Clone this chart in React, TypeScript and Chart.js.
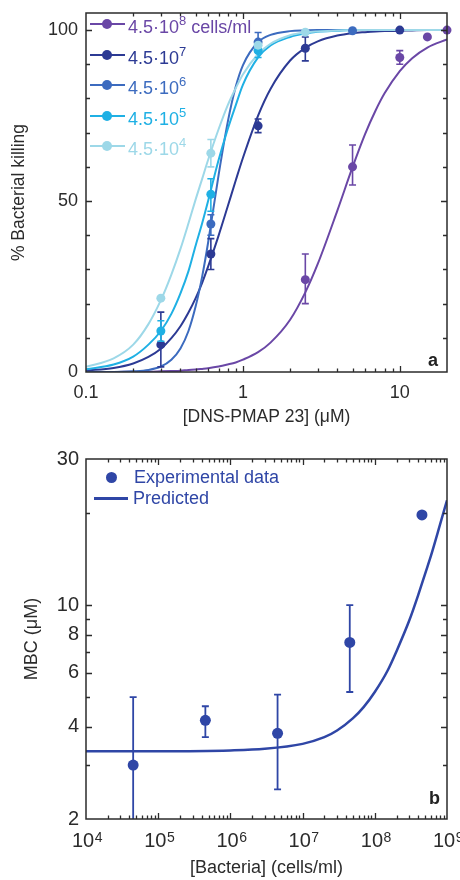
import React, { useEffect, useRef } from 'react';
import { Chart, registerables } from 'chart.js';

Chart.register(...registerables);

const FONT = '"Liberation Sans", Arial, Helvetica, sans-serif';
const AXIS = '#2b2b2b';
const TXT = '#2b2b2b';

// ---------- Panel a: killing vs DNS-PMAP 23 concentration ----------
const COL_8 = '#6a47a6';
const COL_7 = '#2c3a94';
const COL_6 = '#3c6bbf';
const COL_5 = '#1fb0e4';
const COL_4 = '#9dd8e8';

// measured points (µM, % killing)
const p8X = [2.5, 5, 10, 15, 20];
const p8Y = [27, 60, 92, 98, 100];
const p8Lo = [20, 54.7, 90, null, null];
const p8Hi = [34.5, 66.4, 94, null, null];

const p7X = [0.3, 0.625, 1.25, 2.5, 10];
const p7Y = [8, 34.5, 72, 94.7, 100];
const p7Lo = [1.5, 30, 70, 91, null];
const p7Hi = [17.5, 39, 74, 98, null];

const p6X = [0.625, 1.25, 5];
const p6Y = [43.3, 96.5, 99.8];
const p6Lo = [40, 93.5, null];
const p6Hi = [46, 99.3, null];

const p5X = [0.3, 0.625, 1.25];
const p5Y = [12, 52, 94];
const p5Lo = [9, 47, 92];
const p5Hi = [15, 56.5, 96];

const p4X = [0.3, 0.625, 1.25, 2.5];
const p4Y = [21.6, 64, 95.6, 99.4];
const p4Lo = [null, 60, null, null];
const p4Hi = [null, 68, null, null];

// fitted curves
const fitX = [0.1, 0.15, 0.2, 0.25, 0.3, 0.35, 0.4, 0.45, 0.5, 0.55, 0.6, 0.7, 0.8, 0.9, 1, 1.25, 1.5, 2, 2.5, 3, 4, 5, 6, 7, 8, 10, 12, 15, 20];
const fit8 = [0, 0, 0.1, 0.1, 0.2, 0.3, 0.4, 0.6, 0.7, 0.9, 1.1, 1.6, 2.2, 2.8, 3.6, 5.8, 8.6, 15.3, 23.3, 31.6, 47.2, 59.9, 69.5, 76.4, 81.5, 88, 91.8, 94.9, 97.3];
const fit7 = [0.4, 1.2, 2.5, 4.4, 6.8, 9.9, 13.4, 17.4, 21.6, 26.1, 30.8, 39.9, 48.4, 56, 62.6, 75, 82.8, 91.1, 94.8, 96.7, 98.4, 99.1, 99.4, 99.6, 99.7, 99.8, 99.9, 100, 100];
const fit6 = [0, 0, 0.2, 0.6, 1.6, 3.6, 6.9, 12, 19.2, 27.9, 37.8, 57.6, 73, 83.4, 89.7, 96.5, 98.6, 99.7, 99.9, 100, 100, 100, 100, 100, 100, 100, 100, 100, 100];
const fit5 = [0.8, 2.2, 4.5, 8, 12, 17, 23, 29.5, 37, 43.5, 50, 62, 71, 78, 84, 92, 95.5, 98, 99, 99.5, 99.8, 100, 100, 100, 100, 100, 100, 100, 100];
const fit4 = [1.5, 4, 8, 14, 21, 28.5, 36, 43.5, 50.5, 56.5, 62, 71, 78, 83, 87, 93, 96, 98.5, 99.3, 99.6, 99.9, 100, 100, 100, 100, 100, 100, 100, 100];

const aXTicks = [0.1, 0.2, 0.3, 0.4, 0.5, 0.6, 0.7, 0.8, 0.9, 1, 2, 3, 4, 5, 6, 7, 8, 9, 10, 20];
const aXLabelVals = [0.1, 1, 10];
const aXLabels = ['0.1', '1', '10'];
const aYTicks = [0, 10, 20, 30, 40, 50, 60, 70, 80, 90, 100];
const aYLabelVals = [0, 50, 100];
const aYLabels = ['0', '50', '100'];

const legendA = [
  { exp: '8', suffix: ' cells/ml', color: COL_8 },
  { exp: '7', suffix: '', color: COL_7 },
  { exp: '6', suffix: '', color: COL_6 },
  { exp: '5', suffix: '', color: COL_5 },
  { exp: '4', suffix: '', color: COL_4 },
];

// ---------- Panel b: MBC vs bacterial density ----------
const COL_B = '#2f46a6';
const bactX = [4.5e4, 4.5e5, 4.5e6, 4.5e7, 4.5e8];
const mbcY = [3.0, 4.2, 3.81, 7.55, 19.7];
const mbcLo = [1.0, 3.7, 2.5, 5.2, null];
const mbcHi = [5.0, 4.67, 5.1, 10, null];

const predX = [1e4, 1e5, 1e6, 3e6, 1e7, 2e7, 3e7, 5e7, 7e7, 1e8, 1.5e8, 2e8, 3e8, 4e8, 5e8, 6e8, 8e8, 1e9];
const predY = [3.33, 3.33, 3.35, 3.39, 3.52, 3.7, 3.89, 4.27, 4.64, 5.2, 6.1, 7.07, 8.9, 10.8, 12.7, 14.5, 18.3, 22];

const bXTicks = [
  1e4, 2e4, 3e4, 4e4, 5e4, 6e4, 7e4, 8e4, 9e4,
  1e5, 2e5, 3e5, 4e5, 5e5, 6e5, 7e5, 8e5, 9e5,
  1e6, 2e6, 3e6, 4e6, 5e6, 6e6, 7e6, 8e6, 9e6,
  1e7, 2e7, 3e7, 4e7, 5e7, 6e7, 7e7, 8e7, 9e7,
  1e8, 2e8, 3e8, 4e8, 5e8, 6e8, 7e8, 8e8, 9e8,
  1e9,
];
const bXLabelVals = [1e4, 1e5, 1e6, 1e7, 1e8, 1e9];
const bXLabelBase = '10';
const bXLabelExps = ['4', '5', '6', '7', '8', '9'];
const bYTicks = [2, 3, 4, 5, 6, 7, 8, 9, 10, 20, 30];
const bYLabelVals = [2, 4, 6, 8, 10, 30];
const bYLabels = ['2', '4', '6', '8', '10', '30'];

// ---------- helpers ----------
const zip = (xs: number[], ys: number[]) => xs.map((x, i) => ({ x, y: ys[i] }));
const near = (a: number, b: number) => Math.abs(a - b) <= Math.abs(b) * 1e-6 + 1e-12;
const labelFor = (vals: number[], labels: string[]) => (v: any) => {
  const n = Number(v);
  const i = vals.findIndex((u) => near(n, u));
  return i >= 0 ? labels[i] : '';
};
const setTicks = (vals: number[], majors: number[]) => (scale: any) => {
  scale.ticks = vals.map((v) => ({ value: v, major: majors.some((m) => near(v, m)) }));
};
const fixFit = (dim: 'width' | 'height', size: number) => (s: any) => {
  s[dim] = size;
  s.paddingTop = 0;
  s.paddingBottom = 0;
  s.paddingLeft = 0;
  s.paddingRight = 0;
};

const boxPlugin = {
  id: 'boxTicks',
  afterDatasetsDraw(chart: any) {
    const { ctx, chartArea: a } = chart;
    const xs = chart.scales.x;
    const ys = chart.scales.y;
    ctx.save();
    ctx.strokeStyle = AXIS;
    ctx.lineWidth = 1.3;
    ctx.beginPath();
    xs.ticks.forEach((t: any) => {
      const px = Math.round(xs.getPixelForValue(t.value)) + 0.5;
      if (px < a.left + 1 || px > a.right - 1) return;
      const len = t.major ? 6 : 3.5;
      ctx.moveTo(px, a.bottom);
      ctx.lineTo(px, a.bottom - len);
      ctx.moveTo(px, a.top);
      ctx.lineTo(px, a.top + len);
    });
    ys.ticks.forEach((t: any) => {
      const py = Math.round(ys.getPixelForValue(t.value)) + 0.5;
      if (py < a.top + 1 || py > a.bottom - 1) return;
      const len = t.major ? 6 : 4;
      ctx.moveTo(a.left, py);
      ctx.lineTo(a.left + len, py);
      ctx.moveTo(a.right, py);
      ctx.lineTo(a.right - len, py);
    });
    ctx.stroke();
    ctx.lineWidth = 1.5;
    ctx.strokeRect(a.left, a.top, a.right - a.left, a.bottom - a.top);
    ctx.restore();
  },
};

// power-of-ten tick labels with a raised exponent
const supTickPlugin = {
  id: 'supTicks',
  afterDraw(chart: any) {
    const { ctx, chartArea: a } = chart;
    const xs = chart.scales.x;
    ctx.save();
    ctx.fillStyle = TXT;
    ctx.textBaseline = 'alphabetic';
    ctx.textAlign = 'left';
    bXLabelVals.forEach((v, i) => {
      const px = xs.getPixelForValue(v);
      ctx.font = `20px ${FONT}`;
      const w1 = ctx.measureText(bXLabelBase).width;
      ctx.font = `14px ${FONT}`;
      const w2 = ctx.measureText(bXLabelExps[i]).width;
      const x0 = px - (w1 + w2) / 2 + 1;
      const base = a.bottom + 28;
      ctx.font = `20px ${FONT}`;
      ctx.fillText(bXLabelBase, x0, base);
      ctx.font = `14px ${FONT}`;
      ctx.fillText(bXLabelExps[i], x0 + w1 + 0.5, base - 5);
    });
    ctx.restore();
  },
};

const errPlugin = {
  id: 'errBars',
  beforeDatasetDraw(chart: any, args: any) {
    const ds = chart.data.datasets[args.index];
    if (!ds.errLo) return;
    const { ctx, chartArea: a } = chart;
    const xs = chart.scales.x;
    const ys = chart.scales.y;
    ctx.save();
    ctx.beginPath();
    ctx.rect(a.left - 10, a.top - 10, a.right - a.left + 20, a.bottom - a.top + 10);
    ctx.clip();
    ctx.strokeStyle = ds.backgroundColor;
    ctx.lineWidth = ds.errWidth || 1.6;
    const cap = ds.errCap || 3.5;
    ds.data.forEach((p: any, i: number) => {
      const lo = ds.errLo[i];
      const hi = ds.errHi[i];
      if (lo == null || hi == null) return;
      const px = xs.getPixelForValue(p.x);
      const yl = ys.getPixelForValue(lo);
      const yh = ys.getPixelForValue(hi);
      ctx.beginPath();
      ctx.moveTo(px, yl);
      ctx.lineTo(px, yh);
      ctx.moveTo(px - cap, yl);
      ctx.lineTo(px + cap, yl);
      ctx.moveTo(px - cap, yh);
      ctx.lineTo(px + cap, yh);
      ctx.stroke();
    });
    ctx.restore();
  },
};

const pointSet = (xs: number[], ys: number[], lo: any[], hi: any[], color: string, order: number, r = 4.5) => ({
  type: 'scatter' as const,
  data: zip(xs, ys),
  errLo: lo,
  errHi: hi,
  backgroundColor: color,
  borderColor: color,
  pointRadius: r,
  pointBorderWidth: 0,
  showLine: false,
  clip: false as any,
  order,
});

const lineSet = (xs: number[], ys: number[], color: string, order: number, w = 2) => ({
  type: 'line' as const,
  data: zip(xs, ys),
  borderColor: color,
  backgroundColor: color,
  borderWidth: w,
  pointRadius: 0,
  fill: false,
  cubicInterpolationMode: 'monotone' as const,
  order,
});

function ChartA() {
  const ref = useRef<HTMLCanvasElement | null>(null);
  useEffect(() => {
    if (!ref.current) return;
    const chart = new Chart(ref.current, {
      type: 'scatter',
      data: {
        datasets: [
          pointSet(p4X, p4Y, p4Lo, p4Hi, COL_4, 1),
          pointSet(p5X, p5Y, p5Lo, p5Hi, COL_5, 2),
          pointSet(p6X, p6Y, p6Lo, p6Hi, COL_6, 3),
          pointSet(p7X, p7Y, p7Lo, p7Hi, COL_7, 4),
          pointSet(p8X, p8Y, p8Lo, p8Hi, COL_8, 5),
          lineSet(fitX, fit4, COL_4, 6),
          lineSet(fitX, fit5, COL_5, 7),
          lineSet(fitX, fit6, COL_6, 8),
          lineSet(fitX, fit7, COL_7, 9),
          lineSet(fitX, fit8, COL_8, 10),
        ] as any,
      },
      options: {
        responsive: false,
        animation: false,
        devicePixelRatio: 1,
        layout: { padding: { top: 13, right: 13, left: 0, bottom: 0 } },
        plugins: { legend: { display: false }, tooltip: { enabled: false } },
        scales: {
          x: {
            type: 'logarithmic',
            min: 0.1,
            max: 20,
            afterBuildTicks: setTicks(aXTicks, aXLabelVals),
            afterFit: fixFit('height', 68),
            grid: { display: false, drawTicks: false },
            border: { display: false },
            ticks: {
              autoSkip: false,
              maxRotation: 0,
              padding: 10,
              color: TXT,
              font: { family: FONT, size: 18 },
              callback: labelFor(aXLabelVals, aXLabels),
            },
            title: {
              display: true,
              text: '[DNS-PMAP 23] (\u03bcM)',
              color: TXT,
              font: { family: FONT, size: 17.5 },
              padding: { top: 0, bottom: 12 },
            },
          },
          y: {
            type: 'linear',
            min: 0,
            max: 105,
            afterBuildTicks: setTicks(aYTicks, aYLabelVals),
            afterFit: fixFit('width', 86),
            grid: { display: false, drawTicks: false },
            border: { display: false },
            ticks: {
              autoSkip: false,
              padding: 8,
              color: TXT,
              font: { family: FONT, size: 18 },
              callback: labelFor(aYLabelVals, aYLabels),
            },
            title: {
              display: true,
              text: '% Bacterial killing',
              color: TXT,
              font: { family: FONT, size: 17.5 },
              padding: { top: 9, bottom: 0 },
            },
          },
        },
      } as any,
      plugins: [errPlugin, boxPlugin],
    });
    return () => chart.destroy();
  }, []);
  return <canvas ref={ref} width={460} height={440} style={{ position: 'absolute', left: 0, top: 0, width: 460, height: 440 }} />;
}

function ChartB() {
  const ref = useRef<HTMLCanvasElement | null>(null);
  useEffect(() => {
    if (!ref.current) return;
    const chart = new Chart(ref.current, {
      type: 'scatter',
      data: {
        datasets: [
          { ...pointSet(bactX, mbcY, mbcLo, mbcHi, COL_B, 1, 5.5), errWidth: 1.8, errCap: 3.5 },
          lineSet(predX, predY, COL_B, 2, 2.5),
        ] as any,
      },
      options: {
        responsive: false,
        animation: false,
        devicePixelRatio: 1,
        layout: { padding: { top: 19, right: 13, left: 0, bottom: 0 } },
        plugins: { legend: { display: false }, tooltip: { enabled: false } },
        scales: {
          x: {
            type: 'logarithmic',
            min: 1e4,
            max: 1e9,
            afterBuildTicks: setTicks(bXTicks, bXLabelVals),
            afterFit: fixFit('height', 61),
            grid: { display: false, drawTicks: false },
            border: { display: false },
            ticks: {
              autoSkip: false,
              maxRotation: 0,
              padding: 9,
              color: TXT,
              font: { family: FONT, size: 20 },
              callback: () => '',
            },
            title: {
              display: true,
              text: '[Bacteria] (cells/ml)',
              color: TXT,
              font: { family: FONT, size: 18 },
              padding: { top: 0, bottom: 1 },
            },
          },
          y: {
            type: 'logarithmic',
            min: 2,
            max: 30,
            afterBuildTicks: setTicks(bYTicks, bYLabelVals),
            afterFit: fixFit('width', 86),
            grid: { display: false, drawTicks: false },
            border: { display: false },
            ticks: {
              autoSkip: false,
              padding: 7,
              color: TXT,
              font: { family: FONT, size: 20 },
              callback: labelFor(bYLabelVals, bYLabels),
            },
            title: {
              display: true,
              text: 'MBC (\u03bcM)',
              color: TXT,
              font: { family: FONT, size: 18 },
              padding: { top: 21, bottom: 0 },
            },
          },
        },
      } as any,
      plugins: [errPlugin, boxPlugin, supTickPlugin],
    });
    return () => chart.destroy();
  }, []);
  return <canvas ref={ref} width={460} height={440} style={{ position: 'absolute', left: 0, top: 440, width: 460, height: 440 }} />;
}

const abs = (o: any) => ({ position: 'absolute' as const, ...o });

function LegendA() {
  return (
    <>
      {legendA.map((e, i) => {
        const cy = 24 + i * 30.5;
        return (
          <React.Fragment key={i}>
            <div style={abs({ left: 90, top: cy - 1, width: 35, height: 2, background: e.color })} />
            <div style={abs({ left: 102, top: cy - 5, width: 10, height: 10, borderRadius: 5, background: e.color })} />
            <div style={abs({ left: 128, top: cy - 7, height: 20, lineHeight: '20px', fontSize: 18, fontFamily: FONT, color: e.color, whiteSpace: 'nowrap' })}>
              4.5·10
              <span style={{ position: 'relative', top: -8, fontSize: 13 }}>{e.exp}</span>
              {e.suffix}
            </div>
          </React.Fragment>
        );
      })}
      <div style={abs({ left: 428, top: 350, fontSize: 18, fontWeight: 'bold', fontFamily: FONT, color: '#222', lineHeight: '20px' })}>a</div>
    </>
  );
}

function LegendB() {
  return (
    <>
      <div style={abs({ left: 106, top: 472, width: 11, height: 11, borderRadius: 6, background: COL_B })} />
      <div style={abs({ left: 134, top: 467, height: 20, lineHeight: '20px', fontSize: 18, fontFamily: FONT, color: COL_B, whiteSpace: 'nowrap' })}>Experimental data</div>
      <div style={abs({ left: 94, top: 497, width: 34, height: 2.5, background: COL_B })} />
      <div style={abs({ left: 133, top: 488, height: 20, lineHeight: '20px', fontSize: 18, fontFamily: FONT, color: COL_B, whiteSpace: 'nowrap' })}>Predicted</div>
      <div style={abs({ left: 429, top: 788, fontSize: 18, fontWeight: 'bold', fontFamily: FONT, color: '#222', lineHeight: '20px' })}>b</div>
    </>
  );
}

export default function App() {
  return (
    <div style={{ position: 'absolute', left: 0, top: 0, width: 460, height: 880, background: '#fff', overflow: 'hidden' }}>
      <ChartA />
      <ChartB />
      <LegendA />
      <LegendB />
    </div>
  );
}
